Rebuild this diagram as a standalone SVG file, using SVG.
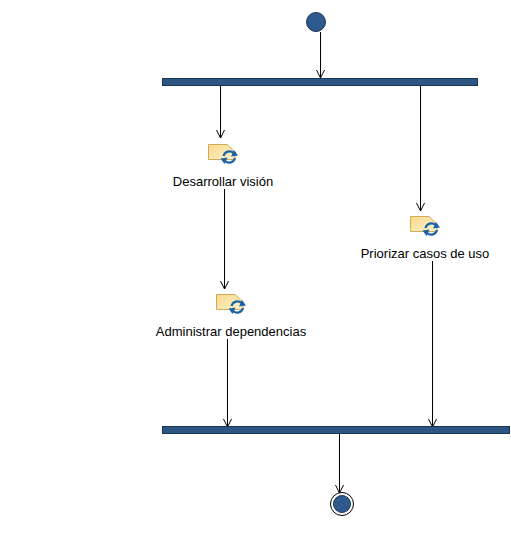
<svg xmlns="http://www.w3.org/2000/svg" width="511" height="537" viewBox="0 0 511 537">
<style>
.bar{fill:#2f5582;stroke:#1c3555;stroke-width:1}
.dot{fill:#2f5a8e;stroke:#1c3555;stroke-width:1}
.c{fill:none;stroke:#000;stroke-width:1;marker-end:url(#a)}
text{font-family:"Liberation Sans",Arial,sans-serif;font-size:13px;fill:#000;text-anchor:middle}
.doc{fill:url(#g);stroke:#d0ab55;stroke-width:1}
.ring{fill:none;stroke:#1c62a5;stroke-width:2.2}
.head{fill:#1c62a5}
</style>
<defs>
<marker id="a" viewBox="0 0 10 10" refX="9" refY="5" markerWidth="10" markerHeight="10" markerUnits="userSpaceOnUse" orient="auto"><path d="M1 1L9 5L1 9" fill="none" stroke="#000" stroke-width="1"/></marker>
<linearGradient id="g" x1="0" y1="0" x2="1" y2="1"><stop offset="0" stop-color="#f7d98a"/><stop offset="1" stop-color="#fdf3d0"/></linearGradient>
<g id="icon">
<path class="doc" d="M0.500 0.500H19L27 8V15.500H0.500Z"/>
<path class="ring" d="M15.500 12A6 6 0 0 1 25.500 9"/>
<path class="head" d="M23 12.500L30 11.500L26 6Z"/>
<path class="ring" d="M27 14A6 6 0 0 1 17 17"/>
<path class="head" d="M19.500 13.500L12.500 14.500L16.500 20Z"/>
</g>
</defs>
<g id="connectors">
<path class="c" d="M320.500 32V78"/>
<path class="c" d="M220.500 86V138"/>
<path class="c" d="M420.500 86V211"/>
<path class="c" d="M224.500 189V289"/>
<path class="c" d="M227.500 339V427"/>
<path class="c" d="M432.500 261V427"/>
<path class="c" d="M339.500 434V493"/>
</g>
<g id="start"><circle class="dot" cx="316" cy="22" r="9.500"/></g>
<g id="fork"><rect class="bar" x="162.500" y="78.500" width="315" height="7"/></g>
<g id="desarrollar"><use href="#icon" x="208" y="144"/><text x="223" y="186">Desarrollar visión</text></g>
<g id="priorizar"><use href="#icon" x="410" y="216"/><text x="425" y="258">Priorizar casos de uso</text></g>
<g id="administrar"><use href="#icon" x="216" y="294"/><text x="231" y="336">Administrar dependencias</text></g>
<g id="join"><rect class="bar" x="162.500" y="426.500" width="347" height="7"/></g>
<g id="end"><circle cx="342" cy="504" r="11.500" fill="#fff" stroke="#000" stroke-width="1"/><circle class="dot" cx="342" cy="504" r="8.500"/></g>
</svg>
